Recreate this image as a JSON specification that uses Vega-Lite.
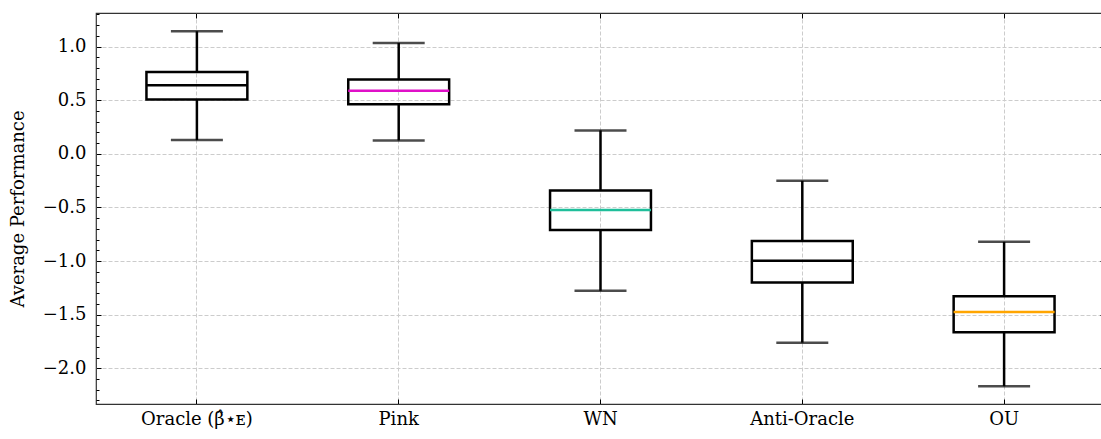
{
  "$schema": "https://vega.github.io/schema/vega-lite/v6.json",
  "width": 1009,
  "height": 391,
  "autosize": {"type": "none"},
  "padding": {"left": 96, "top": 13, "right": 0, "bottom": 35},
  "background": "white",
  "config": {
    "view": {"stroke": "#333333", "strokeWidth": 1.2},
    "font": "DejaVu Serif",
    "axis": {
      "labelFont": "DejaVu Serif",
      "titleFont": "DejaVu Serif",
      "labelColor": "#000000",
      "titleColor": "#000000",
      "domain": false,
      "tickColor": "#000000",
      "tickWidth": 1,
      "gridColor": "#cccccc",
      "gridDash": [4, 2],
      "gridWidth": 1
    }
  },
  "data": {
    "values": [
      {"method": "Oracle (β̂⋆ᴇ)", "lo": 0.128, "q1": 0.507, "med": 0.640, "q3": 0.764, "hi": 1.143},
      {"method": "Pink", "lo": 0.125, "q1": 0.463, "med": 0.587, "q3": 0.693, "hi": 1.034},
      {"method": "WN", "lo": -1.277, "q1": -0.710, "med": -0.523, "q3": -0.341, "hi": 0.218},
      {"method": "Anti-Oracle", "lo": -1.761, "q1": -1.199, "med": -0.997, "q3": -0.814, "hi": -0.252},
      {"method": "OU", "lo": -2.167, "q1": -1.663, "med": -1.476, "q3": -1.329, "hi": -0.821}
    ]
  },
  "layer": [
    {
      "mark": {"type": "rule", "color": "#000000", "strokeWidth": 2.5},
      "encoding": {
        "x": {
          "field": "method", "type": "nominal", "sort": null,
          "scale": {"type": "band", "paddingInner": 0.5, "paddingOuter": 0.25},
          "axis": {"orient": "bottom", "title": null, "labelAngle": 0, "labelFontSize": 18, "labelPadding": 11, "tickSize": -5, "grid": true, "bandPosition": 0.5}
        },
        "y": {
          "field": "lo", "type": "quantitative",
          "scale": {"domain": [-2.333, 1.313], "nice": false, "zero": false},
          "axis": {
            "orient": "left",
            "title": "Average Performance",
            "titleFontSize": 18,
            "titleFontWeight": "normal",
            "titlePadding": 15,
            "labelFontSize": 18,
            "labelPadding": 15,
            "values": [-2.3, -2.2, -2.1, -2.0, -1.9, -1.8, -1.7, -1.6, -1.5, -1.4, -1.3, -1.2, -1.1, -1.0, -0.9, -0.8, -0.7, -0.6, -0.5, -0.4, -0.3, -0.2, -0.1, 0.0, 0.1, 0.2, 0.3, 0.4, 0.5, 0.6, 0.7, 0.8, 0.9, 1.0, 1.1, 1.2, 1.3],
            "tickSize": {"condition": {"test": "abs(datum.value*2-round(datum.value*2))<0.001", "value": -5}, "value": -3},
            "grid": true,
            "gridOpacity": {"condition": {"test": "abs(datum.value*2-round(datum.value*2))<0.001", "value": 1}, "value": 0},
            "labelExpr": "abs(datum.value*2-round(datum.value*2))<0.001 ? replace(format(datum.value,'.1f'),'-','−') : ''"
          }
        },
        "y2": {"field": "q1"}
      }
    },
    {
      "mark": {"type": "rule", "color": "#000000", "strokeWidth": 2.5},
      "encoding": {
        "x": {
          "field": "method", "type": "nominal", "sort": null,
          "axis": {"orient": "top", "title": null, "labels": false, "tickSize": -5, "grid": false, "bandPosition": 0.5}
        },
        "y": {
          "field": "q3", "type": "quantitative",
          "axis": {
            "orient": "right",
            "title": null,
            "labels": false,
            "grid": false,
            "values": [-2.3, -2.2, -2.1, -2.0, -1.9, -1.8, -1.7, -1.6, -1.5, -1.4, -1.3, -1.2, -1.1, -1.0, -0.9, -0.8, -0.7, -0.6, -0.5, -0.4, -0.3, -0.2, -0.1, 0.0, 0.1, 0.2, 0.3, 0.4, 0.5, 0.6, 0.7, 0.8, 0.9, 1.0, 1.1, 1.2, 1.3],
            "tickSize": {"condition": {"test": "abs(datum.value*2-round(datum.value*2))<0.001", "value": -5}, "value": -3}
          }
        },
        "y2": {"field": "hi"}
      }
    },
    {
      "mark": {"type": "bar", "filled": false, "stroke": "#000000", "strokeWidth": 2.5},
      "encoding": {
        "x": {"field": "method", "type": "nominal", "sort": null, "axis": null},
        "y": {"field": "q1", "type": "quantitative", "axis": null},
        "y2": {"field": "q3"}
      }
    },
    {
      "mark": {"type": "tick", "color": "#000000", "size": 52, "thickness": 2.5},
      "encoding": {
        "x": {"field": "method", "type": "nominal", "sort": null, "axis": null},
        "y": {"field": "lo", "type": "quantitative", "axis": null}
      }
    },
    {
      "mark": {"type": "tick", "color": "#000000", "size": 52, "thickness": 2.5},
      "encoding": {
        "x": {"field": "method", "type": "nominal", "sort": null, "axis": null},
        "y": {"field": "hi", "type": "quantitative", "axis": null}
      }
    },
    {
      "mark": {"type": "tick", "size": 101, "thickness": 2.5, "opacity": 1},
      "encoding": {
        "x": {"field": "method", "type": "nominal", "sort": null, "axis": null},
        "y": {"field": "med", "type": "quantitative", "axis": null},
        "color": {
          "field": "method", "type": "nominal", "legend": null,
          "scale": {"domain": ["Oracle (β̂⋆ᴇ)", "Pink", "WN", "Anti-Oracle", "OU"], "range": ["#000000", "#E010C8", "#1FBE9A", "#000000", "#FFA500"]}
        }
      }
    }
  ],
  "resolve": {"axis": {"x": "independent", "y": "independent"}}
}
